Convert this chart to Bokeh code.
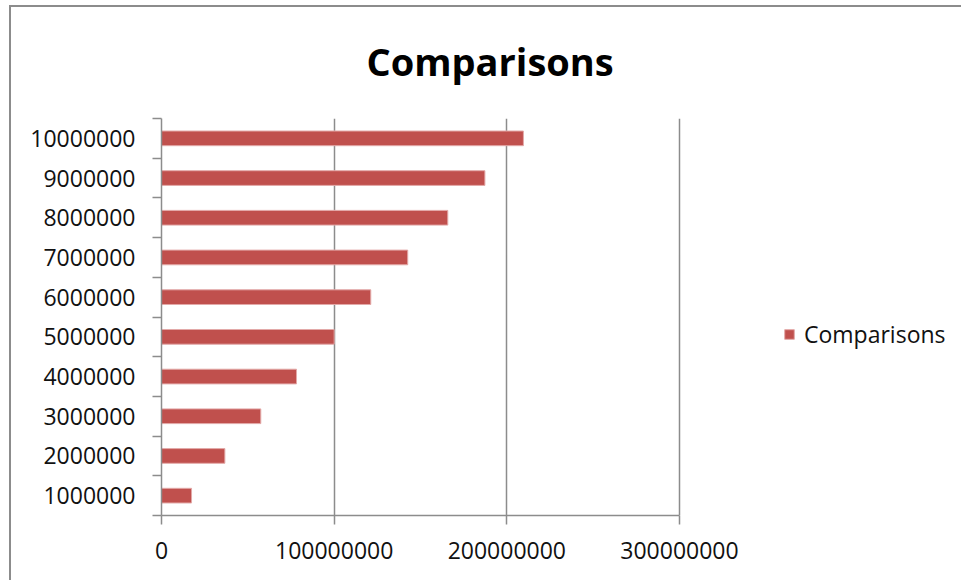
from bokeh.plotting import figure
from bokeh.models import (Range1d, FixedTicker, BasicTickFormatter, Legend, LegendItem,
                          ColumnDataSource, InlineStyleSheet)
from bokeh.embed import file_html
from bokeh.resources import INLINE

# ---- data ----
sizes = ["1000000", "2000000", "3000000", "4000000", "5000000",
         "6000000", "7000000", "8000000", "9000000", "10000000"]
comparisons = [17400000, 36700000, 57500000, 78200000, 100000000,
               121200000, 142600000, 165800000, 187300000, 209600000]
x_ticks = [0, 100000000, 200000000, 300000000]
series_name = "Comparisons"
title_text = "Comparisons"

FONT = "Open Sans"
GRAY = "#8c8c8c"
BAR = "#C0504D"

# layout (pixels): the value axis spans 518 px; the frame continues to the
# right edge so the legend (drawn inside the frame) is not clipped.
W, H = 961, 580
LEFT, TOP, BOTTOM = 161, 118, 65
AXIS_PX = 518
FRAME_PX = W - LEFT
x_end = x_ticks[-1] * FRAME_PX / AXIS_PX

pos = list(range(1, len(sizes) + 1))
src = ColumnDataSource(dict(y=pos, right=comparisons, size=sizes))

p = figure(width=W, height=H, output_backend="svg", toolbar_location=None,
           x_range=Range1d(x_ticks[0], x_end),
           y_range=Range1d(0.5, len(sizes) + 0.5),
           min_border_left=LEFT, min_border_right=0,
           min_border_top=TOP, min_border_bottom=BOTTOM,
           background_fill_color="white", border_fill_color="white")
p.outline_line_color = None

# chart title (above the plot, shifted to the chart-area centre)
p.title.text = title_text
p.title.align = "left"
p.title.offset = 205
p.title.text_font = FONT
p.title.text_font_style = "bold"
p.title.text_font_size = "38px"
p.title.text_color = "black"
p.title.vertical_align = "bottom"
p.title.standoff = 63

r = p.hbar(y="y", right="right", left=0, height=0.37, source=src,
           fill_color=BAR, line_color="#E3A9A8", line_width=1)

# x axis
xa = p.xaxis[0]
xa.ticker = FixedTicker(ticks=x_ticks)
xa.bounds = (x_ticks[0], x_ticks[-1])
xa.formatter = BasicTickFormatter(use_scientific=False)
xa.axis_line_color = GRAY
xa.axis_line_width = 1.5
xa.major_tick_line_color = GRAY
xa.major_tick_line_width = 1.5
xa.major_tick_in = 0
xa.major_tick_out = 9
xa.minor_tick_line_color = None
xa.major_label_standoff = 17
xa.major_label_text_font = FONT
xa.major_label_text_font_size = "23px"
xa.major_label_text_color = "#111111"

# y axis: labels at category centres, ticks at category boundaries
ya = p.yaxis[0]
ya.ticker = FixedTicker(ticks=pos, minor_ticks=[i + 0.5 for i in range(0, len(sizes) + 1)])
ya.major_label_overrides = {k: s for k, s in zip(pos, sizes)}
ya.axis_line_color = GRAY
ya.axis_line_width = 1.5
ya.major_tick_line_color = None
ya.major_tick_in = 0
ya.major_tick_out = 0
ya.minor_tick_line_color = GRAY
ya.minor_tick_line_width = 1.5
ya.minor_tick_in = 0
ya.minor_tick_out = 9
ya.major_label_standoff = 17
ya.major_label_text_font = FONT
ya.major_label_text_font_size = "23px"
ya.major_label_text_color = "#111111"

p.xgrid.ticker = FixedTicker(ticks=x_ticks)
p.xgrid.grid_line_color = GRAY
p.xgrid.grid_line_width = 1.5
p.ygrid.grid_line_color = None

# legend to the right of the value axis
legend = Legend(items=[LegendItem(label=series_name, renderers=[r])],
                location=(622, 165), padding=0, margin=0, spacing=0,
                glyph_width=12, glyph_height=12, label_standoff=9,
                label_text_font=FONT, label_text_font_size="23px",
                label_text_color="#111111",
                border_line_color=None, background_fill_alpha=0)
p.add_layout(legend, "center")

# chart-area frame (left and top edges visible in the window)
p.stylesheets = [InlineStyleSheet(css=""":host::after {
  content: ""; position: absolute; left: 9px; top: 5px;
  width: 952px; height: 575px; box-sizing: border-box;
  border-left: 2px solid #8c8c8c; border-top: 2px solid #8c8c8c;
  pointer-events: none;
}""")]

open("out.html", "w").write(file_html(p, INLINE))
